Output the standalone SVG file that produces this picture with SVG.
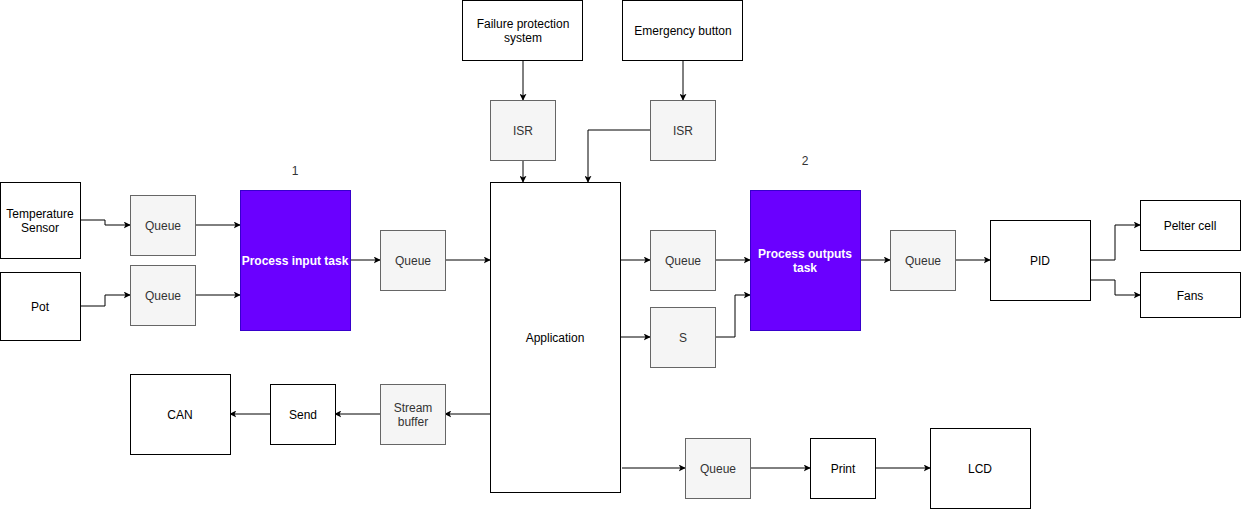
<svg xmlns="http://www.w3.org/2000/svg" width="1241" height="509" viewBox="0 0 1241 509">
<defs>
<style>
.w{fill:#fff;stroke:#000;stroke-width:1}
.g{fill:#f5f5f5;stroke:#666;stroke-width:1}
.p{fill:#6a00ff;stroke:#3700cc;stroke-width:1}
text{font-family:"Liberation Sans",Arial,sans-serif;font-size:12px;text-anchor:middle;dominant-baseline:central;transform:translateY(1px)}
.tb{fill:#000}
.tg{fill:#333}
.tp{fill:#fff;font-weight:bold}
.c{fill:none;stroke:#000;stroke-width:1;marker-end:url(#a)}
</style>
<marker id="a" viewBox="0 0 10 10" refX="9" refY="5" markerWidth="7" markerHeight="7" markerUnits="userSpaceOnUse" orient="auto">
<path d="M0,0 L10,5 L0,10 L2.5,5 Z" fill="#000"/>
</marker>
</defs>
<rect width="1241" height="509" fill="#fff"/>
<g id="connectors">
<path class="c" d="M80,220 H105 V225 H130"/>
<path class="c" d="M80,306 H105 V295 H130"/>
<path class="c" d="M195,225 H240"/>
<path class="c" d="M195,295 H240"/>
<path class="c" d="M350,260 H380"/>
<path class="c" d="M445,260 H490"/>
<path class="c" d="M523,60 V100"/>
<path class="c" d="M683,60 V100"/>
<path class="c" d="M523,160 V182"/>
<path class="c" d="M650,130 H588 V182"/>
<path class="c" d="M620,260 H650"/>
<path class="c" d="M620,337 H650"/>
<path class="c" d="M715,260 H750"/>
<path class="c" d="M715,337 H735 V295 H750"/>
<path class="c" d="M860,260 H890"/>
<path class="c" d="M955,260 H990"/>
<path class="c" d="M1090,260 H1115 V225 H1140"/>
<path class="c" d="M1090,280 H1115 V295 H1140"/>
<path class="c" d="M490,414 H445"/>
<path class="c" d="M380,414 H335"/>
<path class="c" d="M270,414 H230"/>
<path class="c" d="M622,468 H685"/>
<path class="c" d="M750,468 H810"/>
<path class="c" d="M875,468 H930"/>
</g>
<g id="temp"><rect class="w" x="0.5" y="182.5" width="80" height="76"/><text class="tb" x="40" y="213">Temperature</text><text class="tb" x="40" y="227">Sensor</text></g>
<g id="pot"><rect class="w" x="0.5" y="272.5" width="80" height="68"/><text class="tb" x="40" y="306">Pot</text></g>
<g id="q1"><rect class="g" x="130.5" y="195.5" width="65" height="60"/><text class="tg" x="163" y="225">Queue</text></g>
<g id="q2"><rect class="g" x="130.5" y="265.5" width="65" height="60"/><text class="tg" x="163" y="295">Queue</text></g>
<g id="pin"><rect class="p" x="240.5" y="190.5" width="110" height="140"/><text class="tp" x="295" y="260">Process input task</text></g>
<g id="l1"><text class="tg" x="295" y="170">1</text></g>
<g id="q3"><rect class="g" x="380.5" y="230.5" width="65" height="60"/><text class="tg" x="413" y="260">Queue</text></g>
<g id="fps"><rect class="w" x="462.5" y="0.5" width="120" height="60"/><text class="tb" x="523" y="23">Failure protection</text><text class="tb" x="523" y="37">system</text></g>
<g id="emb"><rect class="w" x="622.5" y="0.5" width="120" height="60"/><text class="tb" x="683" y="30">Emergency button</text></g>
<g id="isr1"><rect class="g" x="490.5" y="100.5" width="65" height="60"/><text class="tg" x="523" y="130">ISR</text></g>
<g id="isr2"><rect class="g" x="650.5" y="100.5" width="65" height="60"/><text class="tg" x="683" y="130">ISR</text></g>
<g id="app"><rect class="w" x="490.5" y="182.5" width="130" height="310"/><text class="tb" x="555" y="337">Application</text></g>
<g id="q4"><rect class="g" x="650.5" y="230.5" width="65" height="60"/><text class="tg" x="683" y="260">Queue</text></g>
<g id="s"><rect class="g" x="650.5" y="307.5" width="65" height="60"/><text class="tg" x="683" y="337">S</text></g>
<g id="pout"><rect class="p" x="750.5" y="190.5" width="110" height="140"/><text class="tp" x="805" y="253">Process outputs</text><text class="tp" x="805" y="267">task</text></g>
<g id="l2"><text class="tg" x="805" y="160">2</text></g>
<g id="q5"><rect class="g" x="890.5" y="230.5" width="65" height="60"/><text class="tg" x="923" y="260">Queue</text></g>
<g id="pid"><rect class="w" x="990.5" y="220.5" width="100" height="80"/><text class="tb" x="1040" y="260">PID</text></g>
<g id="pelter"><rect class="w" x="1140.5" y="200.5" width="100" height="50"/><text class="tb" x="1190" y="225">Pelter cell</text></g>
<g id="fans"><rect class="w" x="1140.5" y="272.5" width="100" height="45"/><text class="tb" x="1190" y="295">Fans</text></g>
<g id="can"><rect class="w" x="130.5" y="374.5" width="100" height="80"/><text class="tb" x="180" y="414">CAN</text></g>
<g id="send"><rect class="w" x="270.5" y="384.5" width="65" height="60"/><text class="tb" x="303" y="414">Send</text></g>
<g id="sb"><rect class="g" x="380.5" y="384.5" width="65" height="60"/><text class="tg" x="413" y="407">Stream</text><text class="tg" x="413" y="421">buffer</text></g>
<g id="q6"><rect class="g" x="685.5" y="438.5" width="65" height="60"/><text class="tg" x="718" y="468">Queue</text></g>
<g id="print"><rect class="w" x="810.5" y="438.5" width="65" height="60"/><text class="tb" x="843" y="468">Print</text></g>
<g id="lcd"><rect class="w" x="930.5" y="428.5" width="100" height="80"/><text class="tb" x="980" y="468">LCD</text></g>
</svg>
